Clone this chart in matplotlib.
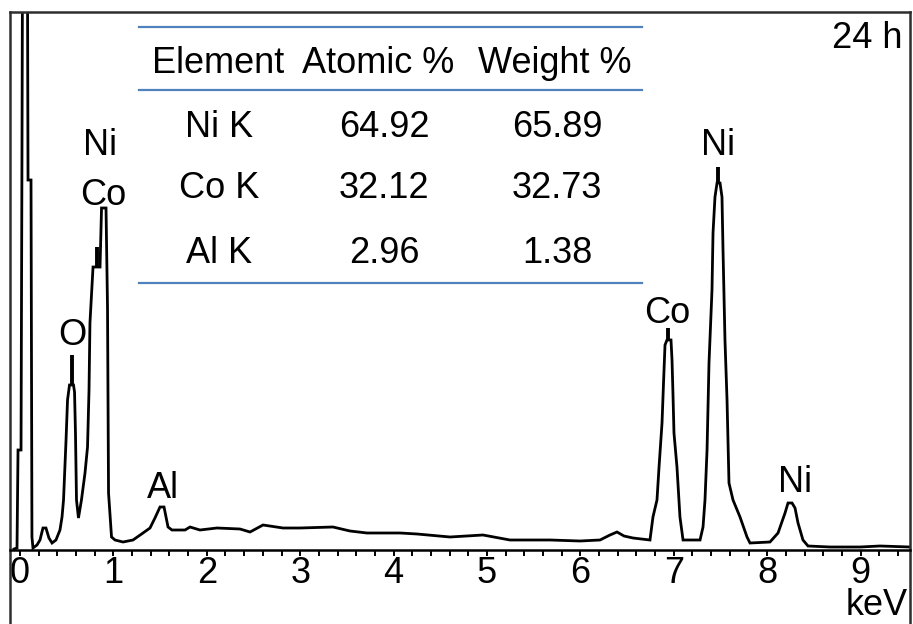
import matplotlib
matplotlib.use('Agg')
import matplotlib.pyplot as plt
from matplotlib.lines import Line2D
from matplotlib.ticker import MultipleLocator

plt.rcParams['font.family'] = ['Liberation Sans', 'DejaVu Sans']

# EDS spectrum of the 24 h sample: energy in keV, intensity in arbitrary counts
energy = [-0.064, -0.032, -0.021, 0.011, 0.021, 0.032, 0.075, 0.086, 0.118, 0.128,
          0.139, 0.182, 0.214, 0.246, 0.278, 0.310, 0.343, 0.385, 0.428, 0.450,
          0.466, 0.493, 0.509, 0.530, 0.573, 0.584, 0.594, 0.605, 0.626, 0.658,
          0.696, 0.723, 0.739, 0.749, 0.782, 0.857, 0.873, 0.921, 0.937, 0.948,
          0.980, 1.017, 1.103, 1.210, 1.317, 1.392, 1.445, 1.499, 1.542, 1.585,
          1.627, 1.767, 1.820, 1.927, 2.109, 2.355, 2.463, 2.602, 2.816, 2.998,
          3.351, 3.533, 3.715, 4.069, 4.251, 4.604, 4.957, 5.246, 5.675, 5.996,
          6.210, 6.317, 6.392, 6.467, 6.563, 6.745, 6.777, 6.820, 6.842, 6.874,
          6.890, 6.906, 6.927, 6.970, 6.981, 6.991, 7.002, 7.034, 7.066, 7.099,
          7.281, 7.313, 7.334, 7.356, 7.377, 7.409, 7.420, 7.441, 7.463, 7.495,
          7.516, 7.527, 7.548, 7.570, 7.591, 7.634, 7.709, 7.784, 7.816, 8.030,
          8.116, 8.191, 8.223, 8.266, 8.298, 8.330, 8.383, 8.437, 8.672, 8.994,
          9.208, 9.529]
counts = [1, 2, 100, 100, 390, 750, 750, 370, 370, 13,
          2, 5, 10, 22, 22, 12, 7, 10, 20, 33,
          50, 110, 150, 165, 165, 158, 117, 50, 32, 50,
          77, 103, 160, 227, 283, 283, 342, 342, 243, 57,
          13, 10, 8, 10, 17, 22, 32, 43, 43, 23,
          20, 20, 23, 20, 22, 21, 18, 25, 22, 22,
          23, 19, 17, 17, 16, 13, 15, 10, 10, 9,
          10, 15, 18, 14, 12, 10, 33, 50, 83, 127,
          167, 205, 210, 210, 190, 157, 117, 83, 33, 10,
          10, 23, 50, 100, 187, 260, 317, 353, 367, 367,
          353, 300, 210, 150, 67, 50, 33, 13, 7, 8,
          17, 37, 47, 47, 42, 27, 10, 4, 3, 3,
          4, 3]

# peak labels
label_text = ['Ni', 'Co', 'O', 'Al', 'Co', 'Ni', 'Ni']
label_energy = [0.857, 0.889, 0.557, 1.531, 6.927, 7.473, 8.298]
label_counts = [395, 345, 205, 52, 227, 395, 58]

# short bars linking labels to their peaks
marker_energy = [0.562, 0.821, 6.938, 7.473]
marker_lo = [165, 283, 210, 367]
marker_hi = [195, 303, 222, 383]

# quantification table
col_names = ['Element', 'Atomic %', 'Weight %']
elements = ['Ni K', 'Co K', 'Al K']
atomic_pct = [64.92, 32.12, 2.96]
weight_pct = [65.89, 32.73, 1.38]

W, H = 913, 624
FS = 26


def px(x, y):
    return x / W, 1 - y / H


fig = plt.figure(figsize=(W / 100, H / 100), dpi=100)
ax = fig.add_axes([10 / W, 0, 900 / W, 612 / H])
ax.set_xlim(-0.107, 9.529)
ax.set_ylim(-74, 538)

ax.plot(energy, counts, color='black', lw=2.0, solid_joinstyle='miter')
ax.vlines(marker_energy, marker_lo, marker_hi, color='black', lw=2.8)

for t, e, c in zip(label_text, label_energy, label_counts):
    ax.text(e, c, t, ha='center', va='baseline', fontsize=FS)

for s in ['left', 'right', 'top']:
    ax.spines[s].set_color('#2e2e2e')
    ax.spines[s].set_linewidth(1.8)
ax.spines['bottom'].set_position(('data', 0))
ax.spines['bottom'].set_linewidth(1.8)

ax.set_yticks([])
ax.xaxis.set_major_locator(MultipleLocator(1))
ax.xaxis.set_minor_locator(MultipleLocator(0.2))
ax.set_xticks(range(10))
ax.tick_params(axis='x', which='both', direction='out', length=4.5, width=1.4,
               labelsize=FS, pad=0)

# table
for y in [27, 90, 283]:
    x0, y0 = px(139, y)
    x1, _ = px(642, y)
    fig.add_artist(Line2D([x0, x1], [y0, y0], transform=fig.transFigure,
                          color='#4f81bd', lw=1.6))

for name, xc in zip(col_names, [218, 378, 555]):
    fig.text(*px(xc, 73), name, ha='center', va='baseline', fontsize=FS)

for i, (el, a, w) in enumerate(zip(elements, atomic_pct, weight_pct)):
    yb = [137, 198, 263][i]
    fig.text(*px(219, yb), el, ha='center', va='baseline', fontsize=FS)
    fig.text(*px(384, yb), f'{a:.2f}', ha='center', va='baseline', fontsize=FS)
    fig.text(*px(557, yb), f'{w:.2f}', ha='center', va='baseline', fontsize=FS)

fig.text(*px(902, 48), '24 h', ha='right', va='baseline', fontsize=FS)
fig.text(*px(877, 623), 'keV', ha='center', va='bottom', fontsize=FS)

fig.savefig('out.png', dpi=100)
